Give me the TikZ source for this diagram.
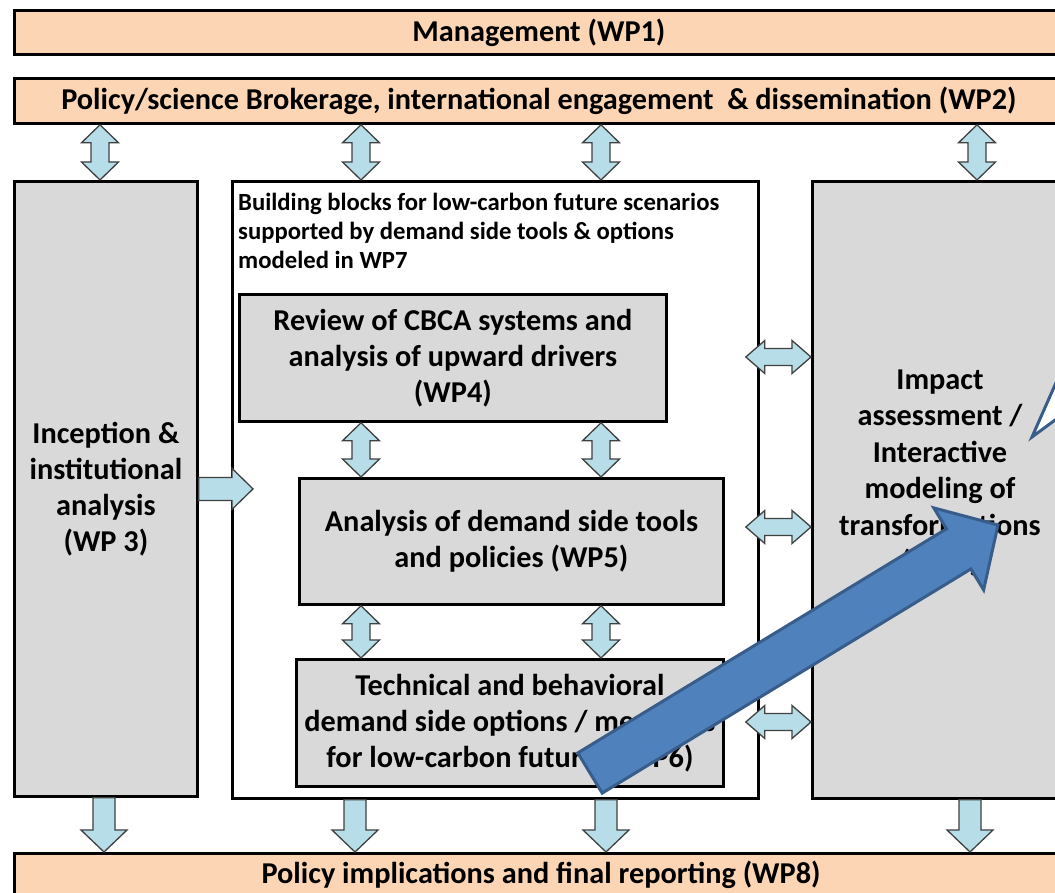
\documentclass[tikz,border=0pt]{standalone}
\usepackage{fontspec}
\setmainfont{Carlito}
\usetikzlibrary{calc}
\definecolor{peach}{HTML}{FCD5B5}
\definecolor{boxgray}{HTML}{D9D9D9}
\definecolor{arrowblue}{HTML}{B7DEE8}
\definecolor{arrowline}{HTML}{404040}
\definecolor{bigblue}{HTML}{4F81BD}
\definecolor{bigblueline}{HTML}{385D8A}
\tikzset{
  bar/.style={draw, line width=2.8pt, fill=peach, anchor=north west, inner sep=0pt,
    font=\bfseries\fontsize{30.3}{36}\selectfont},
  wpbox/.style={draw, line width=2.8pt, fill=boxgray, anchor=north west, inner sep=0pt,
    align=center, font=\bfseries\fontsize{30.3}{36}\selectfont},
  framebox/.style={draw, line width=2.8pt, fill=white, anchor=north west, inner sep=0pt},
  blockarrow/.style={fill=arrowblue, draw=arrowline, line width=1.3pt, line join=miter},
  bigarrow/.style={fill=bigblue, draw=bigblueline, line width=3pt, line join=miter},
  hollowarrow/.style={fill=white, draw=bigblueline, line width=3pt, line join=miter},
}
% vertical double block arrow: #1 top tip, #2 bottom tip
\newcommand\vdarrow[2]{\draw[blockarrow] let \p1=(#1), \p2=(#2) in
  (\x1,\y1) -- (\x1+18.5pt,\y1-18pt) -- (\x1+9pt,\y1-18pt) -- (\x1+9pt,\y2+18pt)
  -- (\x1+18.5pt,\y2+18pt) -- (\x1,\y2) -- (\x1-18.5pt,\y2+18pt) -- (\x1-9pt,\y2+18pt)
  -- (\x1-9pt,\y1-18pt) -- (\x1-18.5pt,\y1-18pt) -- cycle;}
% horizontal double block arrow: #1 left tip, #2 right tip
\newcommand\hdarrow[2]{\draw[blockarrow] let \p1=(#1), \p2=(#2) in
  (\x1,\y1) -- (\x1+19pt,\y1+16.5pt) -- (\x1+19pt,\y1+8.5pt) -- (\x2-19pt,\y1+8.5pt)
  -- (\x2-19pt,\y1+16.5pt) -- (\x2,\y1) -- (\x2-19pt,\y1-16.5pt) -- (\x2-19pt,\y1-8.5pt)
  -- (\x1+19pt,\y1-8.5pt) -- (\x1+19pt,\y1-16.5pt) -- cycle;}
% downward block arrow: #1 tail (top), #2 tip (bottom)
\newcommand\dnarrow[2]{\draw[blockarrow] let \p1=(#1), \p2=(#2) in
  (\x1-11pt,\y1) -- (\x1+11pt,\y1) -- (\x1+11pt,\y2+22pt) -- (\x1+23pt,\y2+22pt)
  -- (\x1,\y2) -- (\x1-23pt,\y2+22pt) -- (\x1-11pt,\y2+22pt) -- cycle;}
% rightward block arrow: #1 tail, #2 tip
\newcommand\rtarrow[2]{\draw[blockarrow] let \p1=(#1), \p2=(#2) in
  (\x1,\y1+11.5pt) -- (\x2-21pt,\y1+11.5pt) -- (\x2-21pt,\y1+20.5pt) -- (\x2,\y1)
  -- (\x2-21pt,\y1-20.5pt) -- (\x2-21pt,\y1-11.5pt) -- (\x1,\y1-11.5pt) -- cycle;}
\begin{document}
\begin{tikzpicture}[x=1pt,y=-1pt]
\useasboundingbox (0,0) rectangle (1055,893);
\clip (0,0) rectangle (1055,893);
\fill[white] (0,0) rectangle (1055,893);

% bars
\node[bar, minimum width=1049pt, minimum height=44pt] (wp1) at (13,9) {Management (WP1)};
\node[bar, minimum width=1049pt, minimum height=45pt] (wp2) at (13,77)
  {Policy/science Brokerage, international engagement~ \& dissemination (WP2)};
\node[bar, minimum width=1049pt, minimum height=46pt] (wp8) at (13,852) {};
\node[font=\bfseries\fontsize{30.3}{36}\selectfont] (wp8text) at (541,875)
  {Policy implications and final reporting (WP8)};

% main columns
\node[wpbox, minimum width=183pt, minimum height=615pt] (wp3) at (13,180)
  {Inception \&\\institutional\\analysis\\(WP 3)};
\node[framebox, minimum width=526pt, minimum height=617pt] (mid) at (231,180) {};
\node[wpbox, minimum width=260pt, minimum height=617pt] (rbox) at (811,180) {};
\node[align=center, font=\bfseries\fontsize{30.3}{36.5}\selectfont] (rtext) at (940,473)
  {Impact\\assessment /\\Interactive\\modeling of\\transformations\\(WP7)};

\node[anchor=north west, inner sep=0pt, align=left,
  font=\bfseries\fontsize{24.7}{29}\selectfont] (head) at (238,193)
  {Building blocks for low-carbon future scenarios\\supported by demand side tools \& options\\modeled in WP7};

\node[wpbox, minimum width=427pt, minimum height=127pt] (wp4) at (238,293)
  {Review of CBCA systems and\\analysis of upward drivers\\(WP4)};
\node[wpbox, minimum width=424pt, minimum height=126pt] (wp5) at (298,477)
  {Analysis of demand side tools\\and policies (WP5)};
\node[wpbox, minimum width=427pt, minimum height=127pt] (wp6) at (295,658)
  {Technical and behavioral\\demand side options / measures\\for low-carbon futures (WP6)};

% arrow columns and rows
\coordinate (cL) at (100,0);
\coordinate (cM1) at (361,0);
\coordinate (cM2) at (601,0);
\coordinate (cR) at (977,0);
\coordinate (dL) at (104,0);
\coordinate (dM1) at (355,0);
\coordinate (dM2) at (606,0);
\coordinate (dR) at (970,0);
\coordinate (r1) at (0,357);
\coordinate (r2) at (0,527);
\coordinate (r3) at (0,722);

% WP2 <-> columns
\vdarrow{wp2.south -| cL}{wp3.north -| cL}
\vdarrow{wp2.south -| cM1}{mid.north -| cM1}
\vdarrow{wp2.south -| cM2}{mid.north -| cM2}
\vdarrow{wp2.south -| cR}{rbox.north -| cR}
% inner
\vdarrow{wp4.south -| cM1}{wp5.north -| cM1}
\vdarrow{wp4.south -| cM2}{wp5.north -| cM2}
\vdarrow{wp5.south -| cM1}{wp6.north -| cM1}
\vdarrow{wp5.south -| cM2}{wp6.north -| cM2}
% mid <-> right
\hdarrow{$(mid.east |- r1)+(-14,0)$}{rbox.west |- r1}
\hdarrow{$(mid.east |- r2)+(-14,0)$}{rbox.west |- r2}
\hdarrow{$(mid.east |- r3)+(-14,0)$}{rbox.west |- r3}
% inception -> mid
\rtarrow{wp3.east}{$(mid.west |- wp3.east)+(22,0)$}
% down to WP8
\dnarrow{wp3.south -| dL}{wp8.north -| dL}
\dnarrow{mid.south -| dM1}{wp8.north -| dM1}
\dnarrow{mid.south -| dM2}{wp8.north -| dM2}
\dnarrow{rbox.south -| dR}{wp8.north -| dR}

% big blue arrow
\coordinate (bt) at (590,773);
\coordinate (bh) at (998,525);
\coordinate (hb) at ($(bh)!46pt!(bt)$);
\draw[bigarrow] ($(bt)!23.5pt!90:(bh)$) -- ($(hb)!23.5pt!90:(bh)$) -- ($(hb)!48pt!90:(bh)$)
  -- (bh) -- ($(hb)!48pt!-90:(bh)$) -- ($(hb)!23.5pt!-90:(bh)$) -- ($(bt)!23.5pt!-90:(bh)$) -- cycle;

% partly visible hollow arrow at the right edge
\coordinate (wt) at (1032,437);
\draw[hollowarrow] (wt) -- (1070,351) -- (1070,409) -- cycle;
\end{tikzpicture}
\end{document}
